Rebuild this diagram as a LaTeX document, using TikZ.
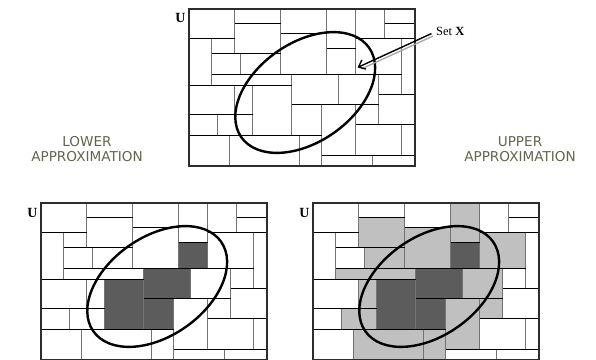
\documentclass[tikz,border=0pt]{standalone}
\usepackage{fontspec}
\setmainfont{Liberation Serif}
\newfontfamily\labelfont{DejaVu Sans}
\usetikzlibrary{arrows.meta}
\definecolor{darktile}{RGB}{92,92,92}
\definecolor{lighttile}{RGB}{192,192,192}
\definecolor{vlinecol}{RGB}{115,115,115}
\definecolor{labelcol}{RGB}{98,102,76}
\definecolor{framecol}{RGB}{45,45,45}
\tikzset{
  vl/.style={draw=vlinecol, line width=1pt},
  hl/.style={draw=black, line width=1pt},
  framebox/.style={draw=framecol, line width=2pt},
  ellip/.style={draw=black, line width=2.4pt},
  darkfill/.style={fill=darktile},
  lightfill/.style={fill=lighttile},
  ulabel/.style={inner sep=0pt, font=\fontsize{14}{16}\selectfont\bfseries},
  approxlabel/.style={inner sep=0pt, align=center, text=labelcol, font=\labelfont\fontsize{13.6}{15}\selectfont},
  setlabel/.style={inner sep=0pt, anchor=west, font=\fontsize{12.5}{14}\selectfont},
}
\newcommand\mytilelines{%
  \foreach \u/\a/\b in {46/0/45, 92/0/66, 138/0/66, 167/0/66, 196/0/30, 23/30/77, 52/45/66,
      103/66/127, 64/77/127, 46/77/106, 29/106/127, 150/66/96, 190/66/116,
      213/30/86, 133/96/157, 167/96/147, 213/116/147, 41/127/157, 111/127/157,
      184/147/157}
    {\draw[vl] (\u,\a) -- (\u,\b);}
  \foreach \v/\a/\b in {15/46/92, 15/196/226, 25/92/138, 30/0/46, 30/167/226, 40/138/167,
      45/23/92, 66/23/213, 77/0/103, 86/190/226, 96/103/190, 106/0/64,
      116/167/226, 127/0/133, 147/133/226}
    {\draw[hl] (\a,\v) -- (\b,\v);}
  \draw[framebox] (0,0) rectangle (226,157);
  \draw[ellip, rotate around={35:(116.7,84)}] (116.7,84) ellipse [x radius=78, y radius=49.5];
}
\newcommand\mydarktiles{%
  \fill[darkfill] (64,77) rectangle (103,127);
  \fill[darkfill] (103,66) rectangle (150,96);
  \fill[darkfill] (103,96) rectangle (133,127);
  \fill[darkfill] (138,40) rectangle (167,66);
}
\newcommand\mylighttiles{%
  \fill[lightfill] (138,0) rectangle (167,40);
  \fill[lightfill] (46,15) rectangle (92,45);
  \fill[lightfill] (92,25) rectangle (138,66);
  \fill[lightfill] (52,45) rectangle (92,66);
  \fill[lightfill] (167,30) rectangle (213,66);
  \fill[lightfill] (23,66) rectangle (103,77);
  \fill[lightfill] (46,77) rectangle (64,106);
  \fill[lightfill] (29,106) rectangle (64,127);
  \fill[lightfill] (150,66) rectangle (190,96);
  \fill[lightfill] (167,96) rectangle (190,116);
  \fill[lightfill] (133,96) rectangle (167,147);
  \fill[lightfill] (41,127) rectangle (111,157);
  \fill[lightfill] (111,127) rectangle (133,157);
}
\begin{document}
\begin{tikzpicture}[x=1pt,y=-1pt]
\useasboundingbox (0,0) rectangle (596,359);
\clip (0,0) rectangle (596,359);
\fill[white] (0,0) rectangle (596,359);
% top: set X
\begin{scope}[shift={(188.5,8.5)}]
  \mytilelines
\end{scope}
% bottom left: lower approximation
\begin{scope}[shift={(40.5,202.5)}]
  \mydarktiles
  \mytilelines
\end{scope}
% bottom right: upper approximation
\begin{scope}[shift={(312.5,202.5)}]
  \mylighttiles
  \mydarktiles
  \mytilelines
\end{scope}
% U labels
\node[ulabel] (utop) at (180.5,17.5) {U};
\node[ulabel] (uleft) at (32.5,213) {U};
\node[ulabel] (uright) at (304.5,212.5) {U};
% approximation labels
\node[approxlabel] (lowerlab) at (87,149.5) {LOWER\\APPROXIMATION};
\node[approxlabel] (upperlab) at (520,149.5) {UPPER\\APPROXIMATION};
% Set X with arrow
\node[setlabel] (setx) at (436,31.5) {Set \textbf{X}};
\coordinate (xtip) at (357.5,67.5);
\draw[draw=black!35, line width=1.3pt, shorten <=5pt, shorten >=3pt]
  ([shift={(1.5,2.5)}]setx.west) -- ([shift={(1.5,2.5)}]xtip);
\draw[line width=1.4pt, -{Straight Barb[length=6pt,width=10pt]}, shorten <=5pt]
  (setx.west) -- (xtip);
\end{tikzpicture}
\end{document}
